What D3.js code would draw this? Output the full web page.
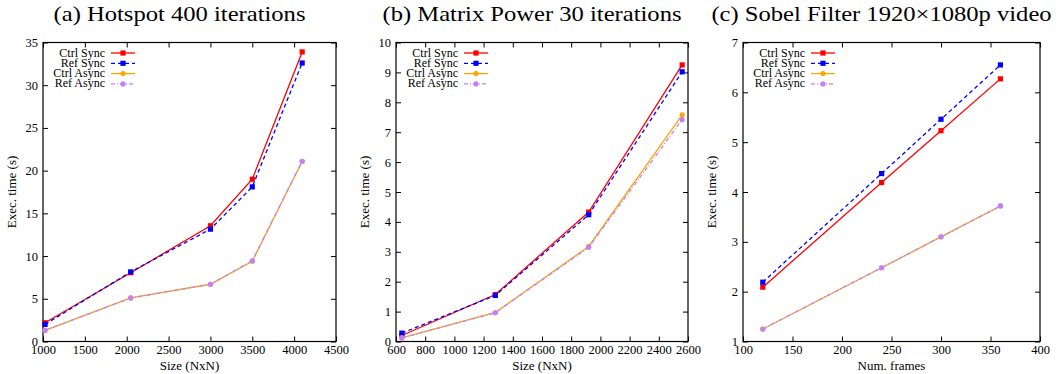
<!DOCTYPE html>
<html><head><meta charset="utf-8">
<script src="https://cdn.jsdelivr.net/npm/d3@7"></script>
<style>
body{margin:0;background:#fff;}
svg{display:block;}
text{font-family:"Liberation Serif","Times New Roman",serif;fill:#000;}
</style></head>
<body>
<svg id="chart" width="1058" height="374"></svg>
<script>
const seriesNames = ["Ctrl Sync", "Ref Sync", "Ctrl Async", "Ref Async"];
const seriesColors = ["#ff0000", "#0000ff", "#ffa500", "#c080ff"];
const seriesDash = [null, "4,3", null, "4,2,1,2"];
const seriesMarker = ["square", "square", "circle", "circle"];

// (a) Hotspot
const hotspotSizes = [1024, 2048, 3000, 3500, 4096];
const hotspotCtrlSync = [2.2, 8.05, 13.55, 19.0, 33.9];
const hotspotRefSync = [2.0, 8.15, 13.15, 18.1, 32.6];
const hotspotCtrlAsync = [1.3, 5.1, 6.7, 9.4, 21.1];
const hotspotRefAsync = [1.3, 5.1, 6.7, 9.45, 21.1];
const hotspotXTicks = [1000, 1500, 2000, 2500, 3000, 3500, 4000, 4500];
const hotspotYTicks = [0, 5, 10, 15, 20, 25, 30, 35];

// (b) Matrix Power
const matrixSizes = [640, 1280, 1920, 2560];
const matrixCtrlSync = [0.2, 1.57, 4.33, 9.25];
const matrixRefSync = [0.28, 1.54, 4.24, 9.02];
const matrixCtrlAsync = [0.12, 0.97, 3.18, 7.58];
const matrixRefAsync = [0.12, 0.96, 3.15, 7.42];
const matrixXTicks = [600, 800, 1000, 1200, 1400, 1600, 1800, 2000, 2200, 2400, 2600];
const matrixYTicks = [0, 1, 2, 3, 4, 5, 6, 7, 8, 9, 10];

// (c) Sobel
const sobelFrames = [120, 240, 300, 360];
const sobelCtrlSync = [2.09, 4.19, 5.23, 6.27];
const sobelRefSync = [2.19, 4.37, 5.46, 6.55];
const sobelCtrlAsync = [1.25, 2.48, 3.1, 3.72];
const sobelRefAsync = [1.25, 2.48, 3.1, 3.72];
const sobelXTicks = [100, 150, 200, 250, 300, 350, 400];
const sobelYTicks = [1, 2, 3, 4, 5, 6, 7];

const panels = [
  {title: "(a) Hotspot 400 iterations", xLabel: "Size (NxN)", x: hotspotSizes,
   ys: [hotspotCtrlSync, hotspotRefSync, hotspotCtrlAsync, hotspotRefAsync],
   xTicks: hotspotXTicks, yTicks: hotspotYTicks, left: 43, right: 336},
  {title: "(b) Matrix Power 30 iterations", xLabel: "Size (NxN)", x: matrixSizes,
   ys: [matrixCtrlSync, matrixRefSync, matrixCtrlAsync, matrixRefAsync],
   xTicks: matrixXTicks, yTicks: matrixYTicks, left: 396, right: 688},
  {title: "(c) Sobel Filter 1920\u00d71080p video", xLabel: "Num. frames", x: sobelFrames,
   ys: [sobelCtrlSync, sobelRefSync, sobelCtrlAsync, sobelRefAsync],
   xTicks: sobelXTicks, yTicks: sobelYTicks, left: 743, right: 1040}
];

const plotTop = 42.5, plotBottom = 341.5;
const svg = d3.select("#chart");

function drawMarker(g, cx, cy, i) {
  if (seriesMarker[i] === "square") {
    g.append("rect").attr("x", cx - 2.6).attr("y", cy - 2.6).attr("width", 5.2).attr("height", 5.2)
      .attr("fill", seriesColors[i]);
  } else {
    g.append("circle").attr("cx", cx).attr("cy", cy).attr("r", 2.6).attr("fill", seriesColors[i]);
  }
}

panels.forEach(p => {
  const g = svg.append("g");
  const xs = d3.scaleLinear().domain(d3.extent(p.xTicks)).range([p.left, p.right]);
  const ys = d3.scaleLinear().domain(d3.extent(p.yTicks)).range([plotBottom, plotTop]);
  const tl = 5;

  const styleAxis = (sel, showLabels) => {
    sel.attr("font-family", null).attr("font-size", null);
    sel.select(".domain").remove();
    sel.selectAll("line").attr("stroke", "#000").attr("stroke-width", 1);
    sel.selectAll("text").style("font-size", "12.5px")
      .style("font-family", "'Liberation Serif', serif")
      .attr("opacity", showLabels ? 1 : 0);
  };

  g.append("g").attr("transform", `translate(0,${plotBottom})`)
    .call(d3.axisBottom(xs).tickValues(p.xTicks).tickSizeInner(-tl).tickSizeOuter(0).tickPadding(4).tickFormat(d3.format("d")))
    .call(s => styleAxis(s, true));
  g.append("g").attr("transform", `translate(0,${plotTop})`)
    .call(d3.axisTop(xs).tickValues(p.xTicks).tickSizeInner(-tl).tickSizeOuter(0).tickFormat(""))
    .call(s => styleAxis(s, false));
  g.append("g").attr("transform", `translate(${p.left},0)`)
    .call(d3.axisLeft(ys).tickValues(p.yTicks).tickSizeInner(-tl).tickSizeOuter(0).tickPadding(5).tickFormat(d3.format("d")))
    .call(s => styleAxis(s, true));
  g.append("g").attr("transform", `translate(${p.right},0)`)
    .call(d3.axisRight(ys).tickValues(p.yTicks).tickSizeInner(-tl).tickSizeOuter(0).tickFormat(""))
    .call(s => styleAxis(s, false));

  g.append("rect").attr("x", p.left).attr("y", plotTop)
    .attr("width", p.right - p.left).attr("height", plotBottom - plotTop)
    .attr("fill", "none").attr("stroke", "#000").attr("stroke-width", 1.2);

  const tcx = (p.left + p.right) / 2 - 10;
  g.append("text").attr("transform", `translate(${tcx},20.5) scale(1.2,1)`)
    .attr("text-anchor", "middle").style("font-size", "20.5px").text(p.title);
  g.append("text").attr("x", (p.left + p.right) / 2).attr("y", 370)
    .attr("text-anchor", "middle").style("font-size", "13px").text(p.xLabel);
  g.append("text").attr("transform", `translate(${p.left - 27},${(plotTop + plotBottom) / 2}) rotate(-90)`)
    .attr("text-anchor", "middle").style("font-size", "13px").text("Exec. time (s)");

  const line = d3.line().x(d => xs(d[0])).y(d => ys(d[1]));
  p.ys.forEach((vals, i) => {
    const pts = p.x.map((xv, j) => [xv, vals[j]]);
    g.append("path").datum(pts).attr("d", line)
      .attr("fill", "none").attr("stroke", seriesColors[i]).attr("stroke-width", 1.3)
      .attr("stroke-dasharray", seriesDash[i]);
    pts.forEach(pt => drawMarker(g, xs(pt[0]), ys(pt[1]), i));
  });

  seriesNames.forEach((name, i) => {
    const ly = plotTop + 10.5 + i * 10.3;
    g.append("text").attr("x", p.left + 62).attr("y", ly + 3.5)
      .attr("text-anchor", "end").style("font-size", "12px").text(name);
    g.append("line").attr("x1", p.left + 68).attr("x2", p.left + 92)
      .attr("y1", ly).attr("y2", ly).attr("stroke", seriesColors[i])
      .attr("stroke-width", 1.3).attr("stroke-dasharray", seriesDash[i]);
    drawMarker(g, p.left + 80, ly, i);
  });
});
</script>
</body></html>
